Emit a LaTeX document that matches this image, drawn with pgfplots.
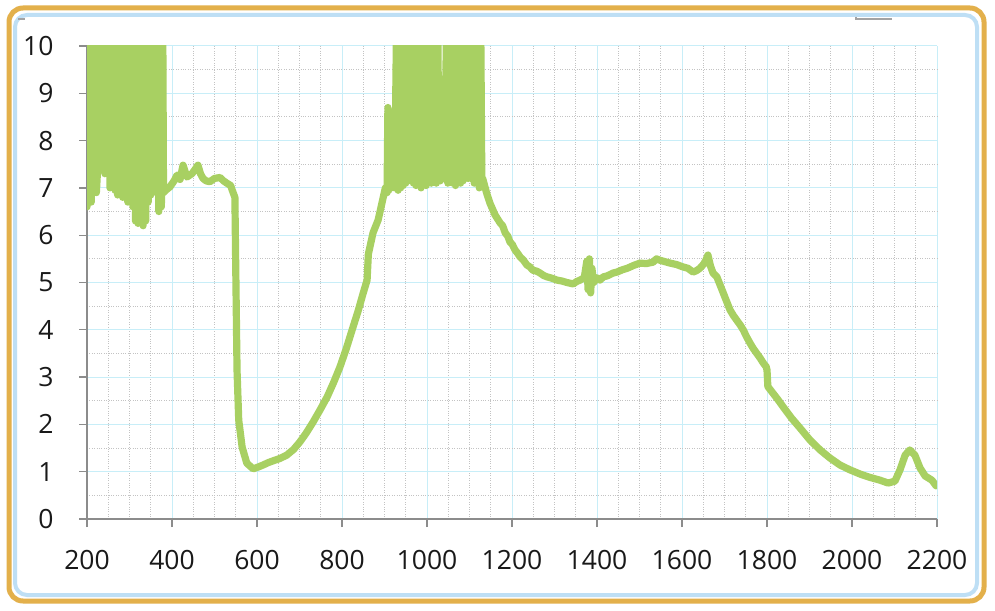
\documentclass[border=0pt]{standalone}
\usepackage{pgfplots}
\pgfplotsset{compat=1.18}
\usepackage{fontspec}
\setmainfont{Open Sans}
\definecolor{linegreen}{RGB}{168,208,98}
\definecolor{gridcyan}{RGB}{200,238,248}
\definecolor{minorgray}{RGB}{195,195,195}
\definecolor{axisgray}{RGB}{140,140,140}
\definecolor{frameorange}{RGB}{227,176,75}
\definecolor{frameblue}{RGB}{190,223,245}
\begin{document}
\begin{tikzpicture}[x=1pt,y=1pt]
\path[use as bounding box, fill=white] (0,0) rectangle (995,610);
\draw[frameorange, line width=5pt, rounded corners=14pt] (9,9) rectangle (984,602);
\draw[frameblue, line width=4pt, rounded corners=12pt] (15,15) rectangle (977,595);
\draw[axisgray!80, line width=1.5pt] (856,593) -- (856,591) -- (892,591);
\draw[axisgray!80, line width=1.5pt] (18,591) -- (25,591);
\begin{axis}[
  at={(87pt,91pt)}, anchor=south west,
  scale only axis, width=850pt, height=473pt,
  xmin=200, xmax=2200, ymin=0, ymax=10,
  xtick={200,400,...,2200}, ytick={0,1,...,10},
  minor x tick num=3, minor y tick num=1,
  grid=both,
  major grid style={draw=gridcyan, line width=1pt},
  minor grid style={draw=minorgray, dotted, line width=0.9pt},
  axis x line*=bottom, axis y line*=left,
  axis line style={draw=axisgray, line width=1.3pt, -},
  tick align=outside, major tick length=8pt, minor tick length=0pt,
  every tick/.style={draw=axisgray, line width=1.3pt},
  /pgf/number format/assume math mode=true,
  /pgf/number format/1000 sep={},
  ticklabel style={font=\fontsize{26.5}{26.5}\selectfont, text=black!90},
  xticklabel style={yshift=-20pt},
  yticklabel style={xshift=-22pt},
  clip=true,
]
% solid blocks of the clipped noise
\addplot[fill=linegreen, draw=none] coordinates {
(200,11) (200,6.7) (204,6.8) (210,6.7) (214,7.0) (214,11)};
\addplot[fill=linegreen, draw=none] coordinates {
(228,11) (228,7.4) (236,7.5) (242,7.3) (248,7.3) (254,7.0) (260,7.2) (266,6.95) (272,6.85)
(278,7.05) (284,6.8) (290,7.0) (296,6.7) (302,6.8) (308,6.6) (314,6.3) (320,6.25) (326,6.6)
(332,6.2) (338,6.3) (344,6.7) (350,6.85) (350,11)};
\addplot[fill=linegreen, draw=none] coordinates {
(366,11) (366,6.8) (372,6.6) (378,6.8) (378,11)};
\addplot[fill=linegreen, draw=none] coordinates {
(930,11) (930,7.0) (938,7.0) (944,7.05) (950,7.1) (956,7.2) (962,7.15) (968,7.1) (974,7.05)
(980,7.1) (986,7.0) (992,7.15) (998,7.05) (1004,7.2) (1010,7.1) (1016,7.2) (1022,7.1)
(1028,7.2) (1029,11)};
\addplot[fill=linegreen, draw=none] coordinates {
(1047,11) (1047,7.2) (1055,7.2) (1061,7.1) (1067,7.05) (1073,7.2) (1079,7.1) (1085,7.15)
(1091,7.2) (1094,7.2) (1094,11)};
\addplot[fill=linegreen, draw=none] coordinates {
(1109,11) (1109,7.2) (1117,7.2) (1123,7.0) (1128,7.2) (1128,11)};
% the measured trace
\addplot[linegreen, line width=7.2pt, line join=round, line cap=round] coordinates {
(200,6.6) (201,11) (204,6.8) (207,11) (210,6.7) (213,11) (216,7.2) (219,7.4) (222,6.9) (225,7.4) (227,11)
(230,7.4) (233,11) (236,7.5) (239,11) (242,7.3) (245,11) (248,7.3) (251,11) (254,7.0) (257,11)
(260,7.2) (263,11) (266,6.95) (269,11) (272,6.85) (275,11) (278,7.05) (281,11) (284,6.8) (287,11)
(290,7.0) (293,11) (296,6.7) (299,11) (302,6.8) (305,11) (308,6.6) (311,11) (314,6.3) (317,11)
(320,6.25) (323,11) (326,6.6) (329,11) (332,6.2) (335,11) (338,6.3) (341,11) (344,6.7) (347,11)
(350,6.85)
(355,8.3) (358,7.0) (361,7.4) (364,6.9) (366,11) (369,6.5) (372,11) (375,6.6) (378,11) (380,6.9)
(385,6.95) (395,7.02) (405,7.15) (412,7.27) (419,7.18) (426,7.48) (435,7.23) (447,7.3) (455,7.4)
(461,7.48) (467,7.3) (473,7.2) (480,7.15) (489,7.13) (500,7.2) (513,7.22) (521,7.15) (529,7.1)
(538,7.05) (543,6.92) (548,6.8) (550,5.3) (553,3.15) (557,2.09) (565,1.52) (576,1.18) (591,1.06)
(603,1.1) (614,1.14) (626,1.19) (638,1.23) (654,1.28) (670,1.35) (686,1.47) (701,1.63) (716,1.82)
(732,2.05) (748,2.3) (765,2.58) (780,2.88) (795,3.21) (810,3.6) (826,4.06) (838,4.4)
(849,4.75) (859,5.05) (862,5.6) (873,6.05) (885,6.32) (892,6.6) (897,6.8) (902,7.0) (906,6.9)
(908,8.7) (910,6.95) (913,8.6) (916,7.0) (920,7.1) (924,7.0)
(929,11) (932,6.95) (935,11) (938,7.0) (941,11) (944,7.05) (947,11) (950,7.1) (953,11) (956,7.2)
(959,11) (962,7.15) (965,11) (968,7.1) (971,11) (974,7.05) (977,11) (980,7.1) (983,11) (986,7.0)
(989,11) (992,7.15) (995,11) (998,7.05) (1001,11) (1004,7.2) (1007,11) (1010,7.1) (1013,11)
(1016,7.2) (1019,11) (1022,7.1) (1025,11) (1028,7.2) (1031,7.15) (1034,7.3) (1037,9.3) (1040,7.2)
(1043,7.35) (1046,11) (1049,7.1) (1052,11) (1055,7.2) (1058,11) (1061,7.1) (1064,11) (1067,7.05)
(1070,11) (1073,7.2) (1076,11) (1079,7.1) (1082,11) (1085,7.15) (1088,11) (1091,7.2) (1094,11)
(1097,7.2) (1100,7.6) (1103,7.2) (1106,7.5) (1108,11) (1111,7.1) (1114,11) (1117,7.2) (1120,11)
(1123,7.0) (1126,11) (1129,7.2) (1131,7.2)
(1140,6.9) (1148,6.68) (1160,6.43) (1172,6.26) (1178,6.2) (1184,6.05) (1190,5.98) (1195,5.86)
(1201,5.8) (1207,5.69) (1213,5.62) (1219,5.54) (1227,5.47) (1235,5.37) (1242,5.33) (1249,5.26)
(1258,5.24) (1266,5.2) (1274,5.15) (1282,5.12) (1294,5.09) (1306,5.05) (1318,5.03) (1329,5.0)
(1344,4.97) (1352,5.02) (1360,5.05) (1370,5.1) (1376,5.45) (1379,4.85) (1382,5.5) (1385,4.78)
(1388,5.3) (1392,5.0) (1400,5.1) (1407,5.05) (1415,5.12) (1424,5.14) (1438,5.2) (1447,5.22)
(1460,5.27) (1471,5.3) (1486,5.36) (1501,5.41) (1516,5.4) (1532,5.43) (1540,5.5) (1548,5.47)
(1560,5.44) (1572,5.41) (1587,5.38) (1602,5.33) (1614,5.3) (1626,5.22) (1634,5.25) (1642,5.3)
(1650,5.38) (1655,5.45) (1661,5.58) (1667,5.35) (1673,5.2) (1682,5.12) (1697,4.78) (1705,4.6)
(1713,4.42) (1721,4.3) (1729,4.2) (1737,4.1) (1744,4.0) (1752,3.85) (1760,3.72) (1768,3.6)
(1776,3.5) (1784,3.4) (1791,3.3) (1798,3.22) (1800,3.15) (1802,2.8) (1814,2.66) (1826,2.52)
(1838,2.37) (1858,2.13) (1878,1.92) (1901,1.67) (1925,1.46) (1948,1.29) (1972,1.14) (1995,1.04)
(2019,0.95) (2042,0.88) (2066,0.82) (2085,0.76) (2101,0.8) (2113,1.04) (2125,1.35) (2136,1.46)
(2148,1.35) (2160,1.08) (2172,0.91) (2188,0.82) (2198,0.7)
};
\end{axis}
\end{tikzpicture}
\end{document}
